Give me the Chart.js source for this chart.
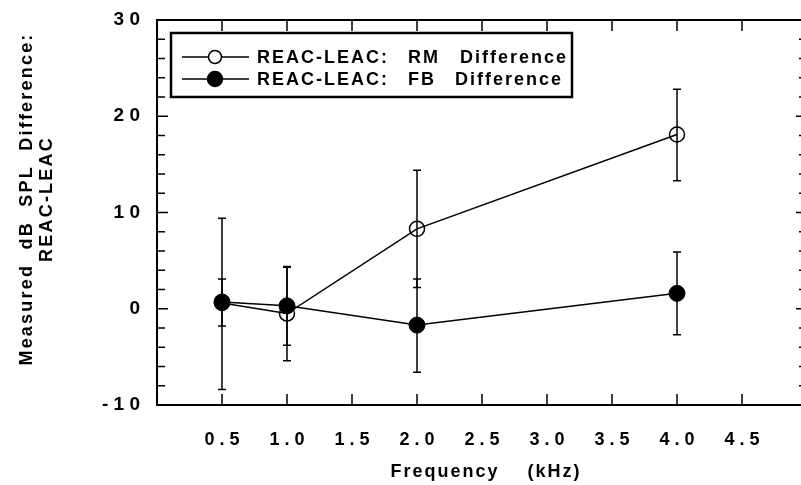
<!DOCTYPE html>
<html>
<head>
<meta charset="utf-8">
<script src="https://cdn.jsdelivr.net/npm/chart.js@4.4.1/dist/chart.umd.min.js"></script>
<style>
    body { margin: 0; background: #fff; overflow: hidden; }
    #outer { width: 801px; height: 485px; overflow: hidden; }
    #wrap { position: relative; width: 808px; height: 485px; }
</style>
</head>
<body>
<div id="outer"><div id="wrap"><canvas id="chart"></canvas></div></div>
<script>
// --- data ---
const freqs = [0.5, 1.0, 2.0, 4.0];
const rmDiff = [0.6, -0.5, 8.3, 18.1];
const rmLow = [-8.4, -5.4, 2.2, 13.3];
const rmHigh = [9.4, 4.3, 14.4, 22.8];
const fbDiff = [0.7, 0.3, -1.7, 1.6];
const fbLow = [-1.8, -3.8, -6.6, -2.7];
const fbHigh = [3.1, 4.4, 3.1, 5.9];

const legendParts = [["REAC-LEAC:", "RM", "Difference"], ["REAC-LEAC:", "FB", "Difference"]];
const xTitle = "Frequency    (kHz)";
const yTitle = ["Measured  dB  SPL  Difference:", "REAC-LEAC"];

const FONT = "'Liberation Sans', Arial, sans-serif";

const spaced = v => String(v).split("").join(" ");

// error bars, frame, inward ticks, titles and legend
const decorPlugin = {
    id: "decor",
    beforeDatasetsDraw(chart) {
        const ctx = chart.ctx;
        const xs = chart.scales.x, ys = chart.scales.y;
        ctx.save();
        ctx.strokeStyle = "#000";
        ctx.lineWidth = 1.5;
        const bars = [[rmLow, rmHigh], [fbLow, fbHigh]];
        bars.forEach(([lo, hi]) => {
            freqs.forEach((f, i) => {
                const x = xs.getPixelForValue(f);
                const y1 = ys.getPixelForValue(lo[i]);
                const y2 = ys.getPixelForValue(hi[i]);
                ctx.beginPath();
                ctx.moveTo(x, y1); ctx.lineTo(x, y2);
                ctx.moveTo(x - 4, y1); ctx.lineTo(x + 4, y1);
                ctx.moveTo(x - 4, y2); ctx.lineTo(x + 4, y2);
                ctx.stroke();
            });
        });
        ctx.restore();
    },
    afterDraw(chart) {
        const ctx = chart.ctx;
        const a = chart.chartArea;
        const xs = chart.scales.x, ys = chart.scales.y;
        ctx.save();
        ctx.strokeStyle = "#000";
        ctx.lineWidth = 2;
        ctx.strokeRect(a.left, a.top, a.right - a.left, a.bottom - a.top);

        // inward tick marks
        ctx.lineWidth = 1.5;
        ctx.beginPath();
        ys.ticks.forEach(t => {
            const y = ys.getPixelForValue(t.value);
            const len = t.value % 10 === 0 ? 11 : 8;
            ctx.moveTo(a.left, y); ctx.lineTo(a.left + len, y);
            ctx.moveTo(a.right, y); ctx.lineTo(a.right - len, y);
        });
        xs.ticks.forEach(t => {
            if (t.value <= 0 || t.value >= 5) return;
            const x = xs.getPixelForValue(t.value);
            ctx.moveTo(x, a.bottom); ctx.lineTo(x, a.bottom - 11);
            ctx.moveTo(x, a.top); ctx.lineTo(x, a.top + 11);
        });
        ctx.stroke();

        // axis titles
        ctx.fillStyle = "#000";
        ctx.textAlign = "center";
        ctx.textBaseline = "middle";
        ctx.font = "bold 18px " + FONT;
        ctx.letterSpacing = "2px";
        ctx.fillText(xTitle, 486, 472);

        ctx.save();
        ctx.translate(27, 199);
        ctx.rotate(-Math.PI / 2);
        ctx.font = "bold 18px " + FONT;
        ctx.letterSpacing = "2.2px";
        ctx.fillText(yTitle[0], 0, 0);
        ctx.fillText(yTitle[1], 0, 20);
        ctx.restore();

        // legend box
        const bx = 171, by = 33, bw = 401, bh = 64;
        ctx.fillStyle = "#fff";
        ctx.fillRect(bx, by, bw, bh);
        ctx.lineWidth = 2.5;
        ctx.strokeRect(bx, by, bw, bh);
        const rows = [57, 79];
        const partX = [[257, 408, 460], [257, 408, 455]];
        ctx.textAlign = "left";
        ctx.font = "bold 18px " + FONT;
        ctx.letterSpacing = "2px";
        rows.forEach((ry, i) => {
            ctx.lineWidth = 1.5;
            ctx.strokeStyle = "#000";
            ctx.beginPath();
            ctx.moveTo(182, ry); ctx.lineTo(249, ry);
            ctx.stroke();
            ctx.beginPath();
            ctx.arc(215, ry, i === 0 ? 6.5 : 7.5, 0, Math.PI * 2);
            ctx.fillStyle = i === 0 ? "#fff" : "#000";
            ctx.fill();
            ctx.stroke();
            ctx.fillStyle = "#000";
            legendParts[i].forEach((p, j) => ctx.fillText(p, partX[i][j], ry + 1));
        });
        ctx.letterSpacing = "0px";
        ctx.restore();
    }
};

const ctx = document.getElementById("chart").getContext("2d");

new Chart(ctx, {
    type: "line",
    data: {
        datasets: [
            {
                label: "REAC-LEAC: RM Difference",
                data: freqs.map((f, i) => ({ x: f, y: rmDiff[i] })),
                borderColor: "#000",
                borderWidth: 1.5,
                pointRadius: 7.5,
                pointBorderWidth: 1.5,
                pointBorderColor: "#000",
                pointBackgroundColor: "rgba(255,255,255,0)",
                tension: 0
            },
            {
                label: "REAC-LEAC: FB Difference",
                data: freqs.map((f, i) => ({ x: f, y: fbDiff[i] })),
                borderColor: "#000",
                borderWidth: 1.5,
                pointRadius: 8,
                pointBorderWidth: 1,
                pointBorderColor: "#000",
                pointBackgroundColor: "#000",
                tension: 0
            }
        ]
    },
    options: {
        responsive: true,
        maintainAspectRatio: false,
        animation: false,
        devicePixelRatio: 1,
        layout: { autoPadding: false, padding: { top: 20, right: 1, left: 0, bottom: 0 } },
        plugins: {
            legend: { display: false },
            tooltip: { enabled: false }
        },
        scales: {
            x: {
                type: "linear",
                min: 0,
                max: 5,
                grid: { display: false, drawTicks: false },
                border: { display: false },
                afterFit: s => { s.height = 80; s.paddingLeft = 0; s.paddingRight = 0; },
                ticks: {
                    stepSize: 0.5,
                    autoSkip: false,
                    maxRotation: 0,
                    padding: 24,
                    color: "#000",
                    font: { family: FONT, size: 18, weight: "bold" },
                    callback: v => (v <= 0 || v >= 5) ? "" : spaced(v.toFixed(1))
                }
            },
            y: {
                min: -10,
                max: 30,
                grid: { display: false, drawTicks: false },
                border: { display: false },
                afterFit: s => { s.width = 157; s.paddingTop = 0; s.paddingBottom = 0; },
                ticks: {
                    stepSize: 2,
                    autoSkip: false,
                    padding: 17,
                    color: "#000",
                    font: { family: FONT, size: 19, weight: "bold" },
                    callback: v => v % 10 === 0 ? spaced(v) : ""
                }
            }
        }
    },
    plugins: [decorPlugin]
});
</script>
</body>
</html>
